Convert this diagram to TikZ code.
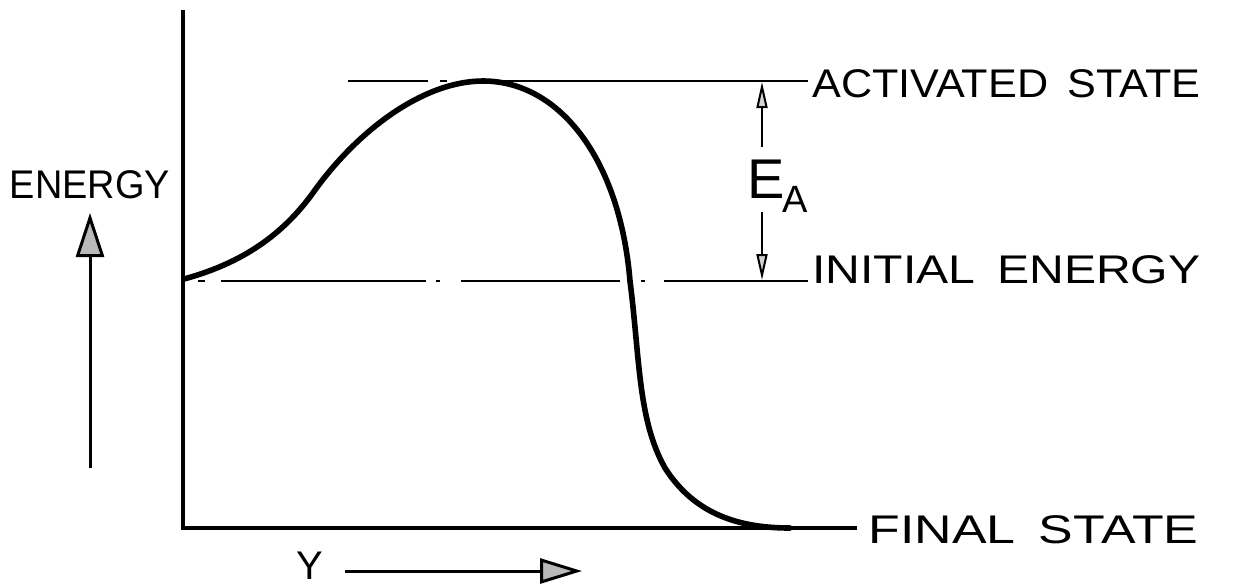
\documentclass[tikz,border=0pt]{standalone}
\usepackage{graphicx}
\usepackage{fontspec}
\setmainfont{Liberation Sans}
\usetikzlibrary{arrows.meta,positioning}

% stretch a label to the width of the lettering
\newcommand{\fitlabel}[2]{\resizebox{#1}{\height}{#2}}
\newcommand{\gap}{\hspace{0.45em}}

\begin{document}
\begin{tikzpicture}[
		x=0.5pt, y=-0.5pt,
		axis/.style={line width=1.6pt},
		level/.style={line width=1pt},
		curve/.style={line width=2.8pt, line cap=round},
		label/.style={font=\fontsize{20}{24}\selectfont, inner sep=0pt},
		bigarrow/.style={line width=1.5pt, -{Triangle[length=22pt, width=14pt, fill=gray!55]}},
		yarrow/.style={line width=1.5pt, -{Triangle[length=21pt, width=12.5pt, fill=gray!55]}},
		ea/.style={line width=1pt, -{Triangle[length=13pt, width=5.5pt, fill=gray!35]}}
		]
		
		\useasboundingbox (0,0) rectangle (1237,586);
		
		% =========================
		% Axes
		% =========================
		\coordinate (origin) at (183,528);
		\coordinate (ytop) at (183,10);
		\coordinate (xend) at (857,528);
		\draw[axis] (ytop) -- (origin) -- (xend);
		
		% =========================
		% Energy levels
		% =========================
		\foreach \a/\b in {198/205, 221/426, 436/440, 461/620, 641/645, 664/808}
		\draw[level] (\a,281) -- (\b,281);
		\foreach \a/\b in {348/428, 440/447, 477/808}
		\draw[level] (\a,81) -- (\b,81);
		
		% Reaction path
		\draw[curve] (184,279) .. controls (235,265) and (280,240) .. (315,190)
		.. controls (360,128) and (425,81) .. (483,81)
		.. controls (560,81) and (620,160) .. (630,281)
		.. controls (640,360) and (638,420) .. (665,468)
		.. controls (695,515) and (740,528) .. (790,528);
		
		% =========================
		% Labels
		% =========================
		\node[label, anchor=base west] (active) at (812,97) {\fitlabel{194pt}{ACTIVATED\gap STATE}};
		\node[label, anchor=base west] (initial) at (812,283) {\fitlabel{194pt}{INITIAL\gap ENERGY}};
		\node[label, anchor=base west] (final) at (868,543) {\fitlabel{165pt}{FINAL\gap STATE}};
		\node[label, anchor=base] (energy) at (90,198) {\fitlabel{80pt}{ENERGY}};
		\node[label, anchor=base west] (ylab) at (296,579) {Y};
		\node[inner sep=0pt, anchor=base west] (ealab) at (747,198)
		{\fontsize{28}{30}\selectfont E\kern-1pt\raisebox{-7pt}{\fontsize{19}{24}\selectfont A}};
		
		% =========================
		% Arrows
		% =========================
		\coordinate (energytail) at (90,468);
		\coordinate (energytip) at (90,213);
		\draw[bigarrow] (energytail) -- (energytip);
		
		\coordinate (ytail) at (345,571);
		\coordinate (ytip) at (582,571);
		\draw[yarrow] (ytail) -- (ytip);
		
		\coordinate (eatop) at (762,82);
		\coordinate (eaupper) at (762,147);
		\coordinate (ealower) at (762,212);
		\coordinate (eabottom) at (762,280);
		\draw[ea] (eaupper) -- (eatop);
		\draw[ea] (ealower) -- (eabottom);
		
	\end{tikzpicture}
\end{document}
